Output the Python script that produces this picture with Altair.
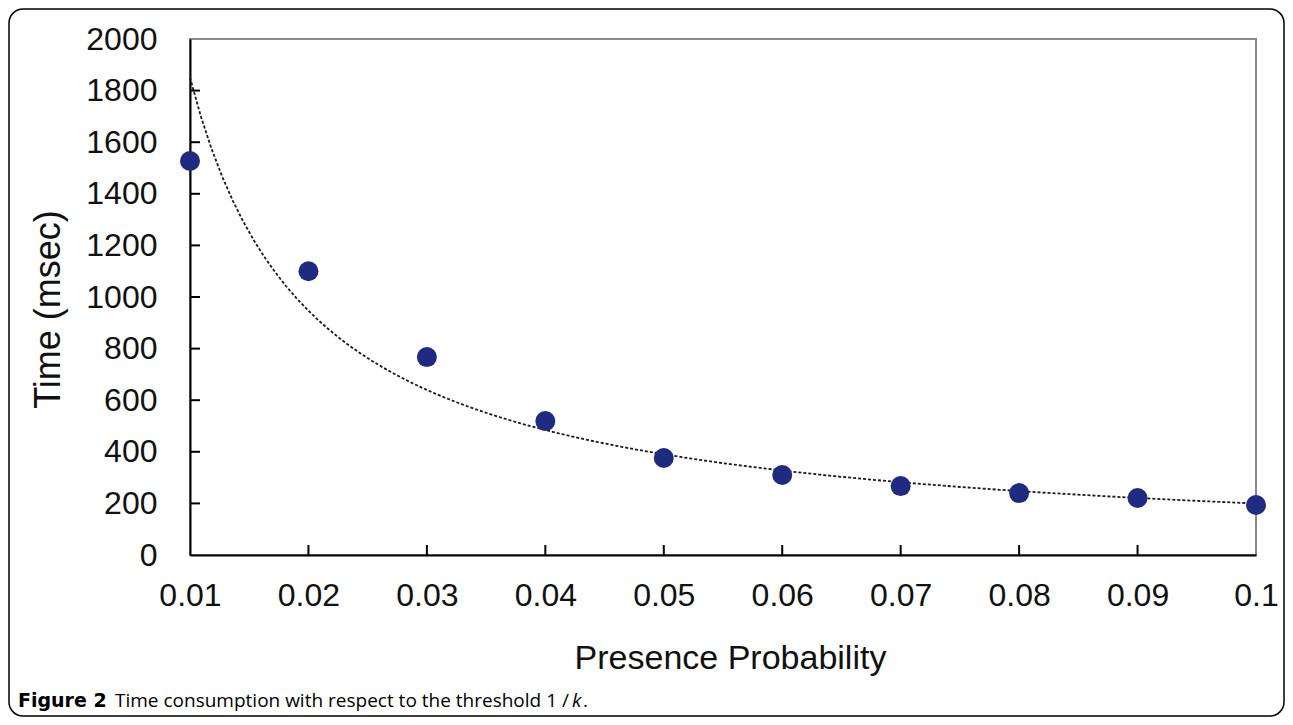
import altair as alt
import pandas as pd

# Data
prob = [0.01, 0.02, 0.03, 0.04, 0.05, 0.06, 0.07, 0.08, 0.09, 0.10]
time_ms = [1527, 1100, 767, 519, 376, 310, 267, 240, 221, 194]

y_tick_values = [0, 200, 400, 600, 800, 1000, 1200, 1400, 1600, 1800, 2000]
x_tick_values = [0.01, 0.02, 0.03, 0.04, 0.05, 0.06, 0.07, 0.08, 0.09, 0.10]
y_inner_ticks = [200, 400, 600, 800, 1000, 1200, 1400, 1600, 1800]
x_inner_ticks = [0.02, 0.03, 0.04, 0.05, 0.06, 0.07, 0.08, 0.09]

x_title = "Presence Probability"
y_title = "Time (msec)"
caption_bold = "Figure 2"
caption_text = "Time consumption with respect to the threshold 1 /"
caption_italic = "k"

W, H = 1066, 516
FONT = "Liberation Sans"

df = pd.DataFrame({"x": prob, "y": time_ms})

xscale = alt.Scale(domain=[0.01, 0.1], nice=False, zero=False)
yscale = alt.Scale(domain=[0, 2000], nice=False)

xaxis = alt.Axis(values=x_tick_values, format=".2~f", title=x_title,
                 labelFont=FONT, labelFontSize=32, labelColor="#111",
                 labelPadding=25, tickSize=0, domainColor="black",
                 domainWidth=2, grid=False, labelFlush=False,
                 titleFont=FONT, titleFontSize=34, titleFontWeight="normal",
                 titleColor="#111", titleX=540, titleY=113,
                 titleBaseline="alphabetic", titleAnchor="middle")
yaxis = alt.Axis(values=y_tick_values, format="d", title=y_title,
                 labelFont=FONT, labelFontSize=32, labelColor="#111",
                 labelPadding=33, tickSize=0, domainColor="black",
                 domainWidth=2, grid=False, labelFlush=False,
                 titleFont=FONT, titleFontSize=36, titleFontWeight="normal",
                 titleColor="#111", titleX=-142, titleY=270,
                 titleBaseline="middle", titleAngle=-90)

trend = alt.Chart(df).transform_regression(
    "x", "y", method="pow", extent=[0.01, 0.1]
).mark_line(color="#1a1a1a", strokeWidth=1.8, strokeDash=[3, 2]).encode(
    x=alt.X("x:Q", scale=xscale, axis=xaxis),
    y=alt.Y("y:Q", scale=yscale, axis=yaxis),
)

points = alt.Chart(df).mark_point(filled=True, size=400, color="#1f2b80",
                                  opacity=1).encode(
    x=alt.X("x:Q", scale=xscale, axis=xaxis),
    y=alt.Y("y:Q", scale=yscale, axis=yaxis),
)

ytick_df = pd.DataFrame({"y": y_inner_ticks})
yticks = alt.Chart(ytick_df).mark_rule(color="black", strokeWidth=2).encode(
    y=alt.Y("y:Q", scale=yscale, axis=yaxis),
    x=alt.value(0), x2=alt.value(10),
)
xtick_df = pd.DataFrame({"x": x_inner_ticks})
xticks = alt.Chart(xtick_df).mark_rule(color="black", strokeWidth=2).encode(
    x=alt.X("x:Q", scale=xscale, axis=xaxis),
    y=alt.value(H), y2=alt.value(H - 10),
)

one = pd.DataFrame({"a": [0]})
border = alt.Chart(one).mark_rect(fillOpacity=0, stroke="black",
                                  strokeWidth=1.5, cornerRadius=14).encode(
    x=alt.value(-181), x2=alt.value(1094),
    y=alt.value(-30), y2=alt.value(677),
)

cap1 = alt.Chart(one).mark_text(text=caption_bold, font="DejaVu Sans",
                                fontSize=19, fontWeight="bold", align="left",
                                baseline="alphabetic", color="black").encode(
    x=alt.value(18 - 190), y=alt.value(707 - 39))
cap2 = alt.Chart(one).mark_text(text=caption_text, font="Open Sans",
                                fontSize=19, fontWeight="normal", align="left",
                                baseline="alphabetic", color="black").encode(
    x=alt.value(115 - 190), y=alt.value(707 - 39))
cap3 = alt.Chart(one).mark_text(text=caption_italic, font="Open Sans",
                                fontSize=19, fontStyle="italic", align="left",
                                baseline="alphabetic", color="black").encode(
    x=alt.value(572 - 190), y=alt.value(707 - 39))
cap4 = alt.Chart(one).mark_text(text=".", font="Open Sans",
                                fontSize=19, align="left",
                                baseline="alphabetic", color="black").encode(
    x=alt.value(583 - 190), y=alt.value(707 - 39))

chart = alt.layer(border, trend, points, yticks, xticks, cap1, cap2, cap3, cap4).properties(
    width=W, height=H,
    autosize=alt.AutoSizeParams(type="none"),
    padding={"left": 182, "top": 31, "right": 29, "bottom": 162},
    background="white",
).configure_view(stroke="#8a8a8a", strokeWidth=2)

chart.save("out.html", embed_options={"renderer": "svg", "actions": False})
